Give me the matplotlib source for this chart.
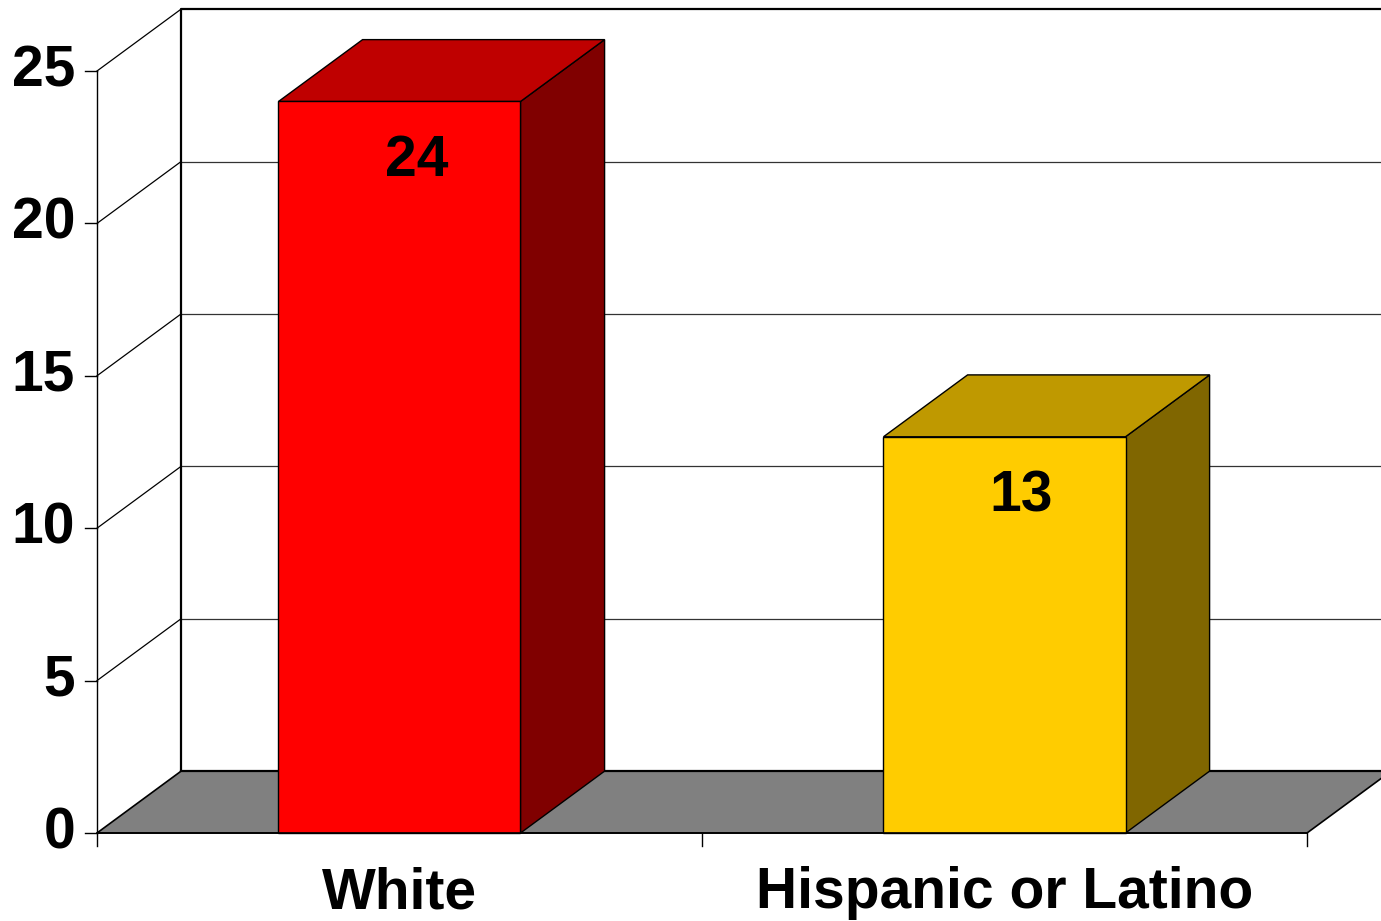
import matplotlib
matplotlib.use("Agg")
import matplotlib.pyplot as plt
from matplotlib.patches import Polygon

plt.rcParams['font.family'] = ['Liberation Sans', 'DejaVu Sans']

# chart data
categories = ['White', 'Hispanic or Latino']
values = [24, 13]
front_colors = ['#FF0000', '#FFCC00']
top_colors = ['#BF0000', '#BF9900']
side_colors = ['#800000', '#806600']
yticks = [0, 5, 10, 15, 20, 25]

# 3D look: depth offset in data units, bar width as a share of a category slot
depth_x = 0.139
depth_y = 2.03
bar_w = 0.4
n = len(categories)

fig = plt.figure(figsize=(13.81, 9.21), dpi=100)
ax = fig.add_axes([0, 0, 1, 1])
ax.set_xlim(-0.1603, 2.1223)
ax.set_ylim(-2.887, 27.33)
ax.axis('off')

right = n + depth_x + 0.5  # back wall runs off the right edge

# back wall gridlines
for v in yticks[1:-1]:
    ax.plot([depth_x, right], [v + depth_y, v + depth_y], color='#333333', lw=0.9, zorder=1)
# back wall border (left and top)
ax.plot([depth_x, depth_x, right], [depth_y, yticks[-1] + depth_y, yticks[-1] + depth_y],
        color='black', lw=1.6, zorder=1)
# left wall diagonals
for v in yticks[1:]:
    ax.plot([0, depth_x], [v, v + depth_y], color='black', lw=0.9, zorder=1)

# floor
floor = Polygon([(0, 0), (n, 0), (n + depth_x, depth_y), (depth_x, depth_y)],
                closed=True, facecolor='#808080', edgecolor='black', lw=1.2, zorder=2)
ax.add_patch(floor)
ax.plot([depth_x, n + depth_x], [depth_y, depth_y], color='black', lw=1.6, zorder=2)

# bars
for i, (cat, v) in enumerate(zip(categories, values)):
    c = i + 0.5
    l, r = c - bar_w / 2, c + bar_w / 2
    front = Polygon([(l, 0), (r, 0), (r, v), (l, v)], closed=True,
                    facecolor=front_colors[i], edgecolor='black', lw=1.0, zorder=4)
    top = Polygon([(l, v), (r, v), (r + depth_x, v + depth_y), (l + depth_x, v + depth_y)],
                  closed=True, facecolor=top_colors[i], edgecolor='black', lw=1.0, zorder=3)
    side = Polygon([(r, 0), (r + depth_x, depth_y), (r + depth_x, v + depth_y), (r, v)],
                   closed=True, facecolor=side_colors[i], edgecolor='black', lw=1.0, zorder=3)
    for p in (side, top, front):
        ax.add_patch(p)
    ax.text(c + depth_x / 5, v - 1.95, str(v), ha='center', va='center',
            fontsize=41, fontweight='bold', zorder=5)
    ax.text(c, -1.98, cat, ha='center', va='center', fontsize=41, fontweight='bold')

# front axes
ax.plot([0, 0], [0, yticks[-1]], color='black', lw=1.0, zorder=5)
ax.plot([0, n], [0, 0], color='black', lw=1.2, zorder=5)
for v in yticks:
    ax.plot([-0.02, 0], [v, v], color='black', lw=1.0, zorder=5)
    ax.text(-0.036, v, str(v), ha='right', va='center', fontsize=41, fontweight='bold')
for k in range(n + 1):
    ax.plot([k, k], [0, -0.42], color='black', lw=1.0, zorder=5)

fig.savefig('out.png', dpi=100)
